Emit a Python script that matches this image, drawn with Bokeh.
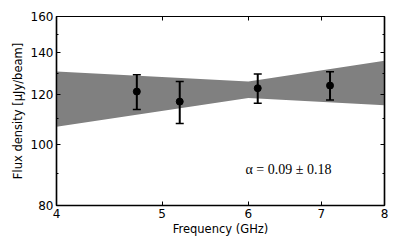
from bokeh.plotting import figure
from bokeh.models import LogAxis, FixedTicker, Whisker, ColumnDataSource, Range1d
from bokeh.core.properties import value
from bokeh.embed import file_html
from bokeh.resources import INLINE

# data
freq = [4.74, 5.19, 6.12, 7.13]
flux = [121.5, 117.1, 123.0, 124.2]
err = [7.7, 9.0, 6.6, 6.4]

band_freq = [4.0, 6.0, 8.0]
band_upper = [130.8, 126.1, 136.0]
band_lower = [106.8, 118.7, 115.6]

x_ticks = [4, 5, 6, 7, 8]
y_ticks = [80, 100, 120, 140, 160]
y_minor = [90, 110, 130, 150]
annot = "α = 0.09 ± 0.18"

p = figure(width=399, height=247, x_axis_type="log", y_axis_type="log",
           x_range=Range1d(4, 8), y_range=Range1d(80, 160),
           output_backend="svg", toolbar_location=None,
           min_border_left=56, min_border_top=16, min_border_right=15, min_border_bottom=42)
p.grid.visible = False
p.outline_line_color = "black"
p.outline_line_width = 1.2
p.background_fill_color = "white"
p.border_fill_color = "white"

# band
bx = band_freq + band_freq[::-1]
by = band_upper + band_lower[::-1]
p.patch(bx, by, fill_color="#808080", line_color=None)

src = ColumnDataSource(dict(x=freq, y=flux,
                            lo=[f - e for f, e in zip(flux, err)],
                            hi=[f + e for f, e in zip(flux, err)]))
w = Whisker(source=src, base="x", lower="lo", upper="hi", line_color="black", line_width=2,
            level="overlay")
for h in (w.upper_head, w.lower_head):
    h.line_color = "black"
    h.size = 8
    h.line_width = 1.5
p.add_layout(w)
p.scatter("x", "y", source=src, size=7, color="black", level="overlay")

p.text([6.53], [91.3], text=[annot], text_font=value("Liberation Serif"),
       text_font_size="14px", text_align="center", text_baseline="middle", color="black")

font = "DejaVu Sans"
for ax in (p.xaxis[0], p.yaxis[0]):
    ax.major_tick_in = 4
    ax.major_tick_out = 0
    ax.minor_tick_in = 2
    ax.minor_tick_out = 0
    ax.axis_line_width = 1.5
    ax.axis_line_color = "black"
    ax.major_label_text_font = font
    ax.major_label_text_font_size = "12px"
    ax.major_label_text_color = "black"
    ax.axis_label_text_font = font
    ax.axis_label_text_font_style = "normal"
    ax.axis_label_text_font_size = "11.5px"
    ax.axis_label_text_color = "black"

p.xaxis[0].ticker = FixedTicker(ticks=x_ticks, minor_ticks=[])
p.xaxis[0].major_label_overrides = {t: str(t) for t in x_ticks}
p.xaxis[0].axis_label = "Frequency (GHz)"
p.xaxis[0].major_label_standoff = 3
p.xaxis[0].axis_label_standoff = 1

p.yaxis[0].ticker = FixedTicker(ticks=y_ticks, minor_ticks=y_minor)
p.yaxis[0].major_label_overrides = {t: str(t) for t in y_ticks}
p.yaxis[0].axis_label = "Flux density [μJy/beam]"
p.yaxis[0].major_label_standoff = 3
p.yaxis[0].axis_label_standoff = 3

top = LogAxis(ticker=FixedTicker(ticks=x_ticks, minor_ticks=[]),
              major_label_overrides={t: "" for t in x_ticks},
              major_tick_in=4, major_tick_out=0, minor_tick_in=0, minor_tick_out=0,
              major_label_standoff=0, axis_line_color="black", axis_line_width=1.2)
right = LogAxis(ticker=FixedTicker(ticks=y_ticks, minor_ticks=y_minor),
                major_label_overrides={t: "" for t in y_ticks},
                major_tick_in=4, major_tick_out=0, minor_tick_in=2, minor_tick_out=0,
                major_label_standoff=0, axis_line_color="black", axis_line_width=1.5)
p.add_layout(top, "above")
p.add_layout(right, "right")

open("out.html", "w").write(file_html(p, INLINE))
